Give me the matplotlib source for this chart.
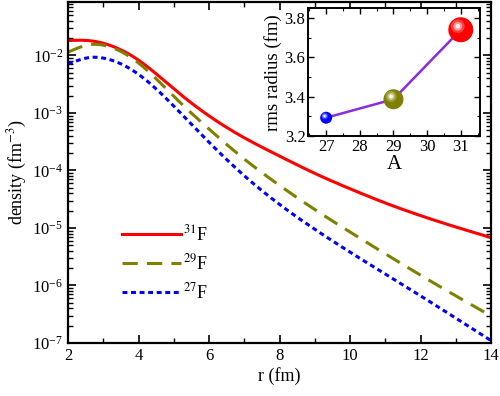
import numpy as np
import matplotlib
matplotlib.use("Agg")
import matplotlib.pyplot as plt
from matplotlib.ticker import LogLocator, MultipleLocator, NullFormatter
from matplotlib.transforms import offset_copy

plt.rcParams['font.family'] = ['Liberation Serif', 'DejaVu Serif']
plt.rcParams['mathtext.fontset'] = 'stix'

# density profiles (r in fm, density in fm^-3)
r = [2, 2.7, 3, 4, 5, 6, 7, 8, 9, 10, 11, 12, 13, 14]
rho_31 = [0.0182, 0.0178, 0.0163, 0.0083, 0.00263, 8.9e-4, 3.7e-4, 1.78e-4, 8.9e-5, 4.8e-5, 2.72e-5, 1.64e-5, 1.04e-5, 6.8e-6]
rho_29 = [0.0114, 0.0156, 0.0151, 0.0074, 0.00195, 5.25e-4, 1.58e-4, 5.5e-5, 2.09e-5, 8.5e-6, 3.55e-6, 1.51e-6, 6.6e-7, 2.95e-7]
rho_27 = [0.0071, 0.0093, 0.0090, 0.0047, 0.00132, 3.1e-4, 8.1e-5, 2.57e-5, 9.5e-6, 3.8e-6, 1.58e-6, 6.6e-7, 2.7e-7, 1.1e-7]

# inset: rms radius vs mass number
A = [27, 29, 31]
rms = [3.293, 3.387, 3.741]
ball_colors = ['#0000ff', '#808000', '#ff0000']
ball_sizes = [12, 20, 25]  # diameters in px


def spline(x, y, n=400):
    """natural cubic spline through (x, log10 y)"""
    x = np.asarray(x, float)
    ly = np.log10(y)
    m = len(x)
    h = np.diff(x)
    M = np.zeros((m, m))
    b = np.zeros(m)
    M[0, 0] = M[-1, -1] = 1
    for i in range(1, m - 1):
        M[i, i - 1] = h[i - 1]
        M[i, i] = 2 * (h[i - 1] + h[i])
        M[i, i + 1] = h[i]
        b[i] = 6 * ((ly[i + 1] - ly[i]) / h[i] - (ly[i] - ly[i - 1]) / h[i - 1])
    c = np.linalg.solve(M, b)
    xs = np.linspace(x[0], x[-1], n)
    idx = np.clip(np.searchsorted(x, xs) - 1, 0, m - 2)
    x0, x1 = x[idx], x[idx + 1]
    hh = x1 - x0
    t0, t1 = x1 - xs, xs - x0
    out = (c[idx] * t0 ** 3 / (6 * hh) + c[idx + 1] * t1 ** 3 / (6 * hh)
           + (ly[idx] / hh - c[idx] * hh / 6) * t0
           + (ly[idx + 1] / hh - c[idx + 1] * hh / 6) * t1)
    return xs, 10 ** out


fig = plt.figure(figsize=(5, 3.96), dpi=100)
ax = fig.add_axes([0.136, 0.134, 0.846, 0.861])

x, y = spline(r, rho_31)
ax.plot(x, y, color='#ff0000', lw=2.2, label='$^{31}$F')
x, y = spline(r, rho_29)
ax.plot(x, y, color='#808000', lw=2.2, dashes=(5, 3), label='$^{29}$F')
x, y = spline(r, rho_27)
ax.plot(x, y, color='#0000ff', lw=2.2, dashes=(1.6, 1.2), label='$^{27}$F')

ax.set_yscale('log')
ax.set_xlim(2, 14)
ax.set_ylim(1e-7, 10 ** -1.07)
ax.set_xticks([2, 4, 6, 8, 10, 12, 14])
ax.xaxis.set_minor_locator(MultipleLocator(1))
ax.yaxis.set_major_locator(LogLocator(base=10, numticks=20))
ax.yaxis.set_minor_locator(LogLocator(base=10, subs=np.arange(2, 10), numticks=20))
ax.yaxis.set_minor_formatter(NullFormatter())
ax.set_yticks([1e-7, 1e-6, 1e-5, 1e-4, 1e-3, 1e-2])
ax.tick_params(which='both', direction='in', top=True, right=True, labelsize=12)
ax.tick_params(which='major', length=6, width=1.2)
ax.tick_params(which='minor', length=3.5, width=1.0)
for s in ax.spines.values():
    s.set_linewidth(1.6)
ax.set_xlabel('r (fm)', fontsize=13, labelpad=2)
ax.set_ylabel('density (fm$^{-3}$)', fontsize=13, labelpad=2)

ax.legend(loc='upper left', bbox_to_anchor=(0.11, 0.37), frameon=False, fontsize=13,
          handlelength=3.3, handletextpad=0.1, labelspacing=0.5, borderaxespad=0)

# inset
ins = fig.add_axes([0.6166, 0.6566, 0.3434, 0.3224])
ins.plot(A, rms, color='#8a2be2', lw=1.8, zorder=2)
for a, v, c, d in zip(A, rms, ball_colors, ball_sizes):
    ins.scatter([a], [v], s=(d * 0.72) ** 2, color=c, zorder=3, edgecolors='none')
    tr = offset_copy(ins.transData, fig=fig, x=-d * 0.12, y=d * 0.14, units='dots')
    for f, al in [(0.55, 0.25), (0.35, 0.45), (0.18, 0.9)]:
        ins.scatter([a], [v], s=(d * 0.72 * f) ** 2, color='white', alpha=al,
                    zorder=4, edgecolors='none', transform=tr)
ins.set_xlim(26.47, 31.57)
ins.set_ylim(3.2, 3.85)
ins.set_xticks([27, 28, 29, 30, 31])
ins.set_yticks([3.2, 3.4, 3.6, 3.8])
ins.xaxis.set_minor_locator(MultipleLocator(0.5))
ins.yaxis.set_minor_locator(MultipleLocator(0.1))
ins.tick_params(which='both', direction='in', top=True, right=True, labelsize=12, pad=2)
ins.tick_params(which='major', length=4, width=1.0)
ins.tick_params(which='minor', length=2, width=0.8)
for s in ins.spines.values():
    s.set_linewidth(1.4)
ins.set_xlabel('A', fontsize=15, labelpad=0)
ins.set_ylabel('rms radius (fm)', fontsize=13.5, labelpad=2)

fig.savefig('out.png', dpi=100)
